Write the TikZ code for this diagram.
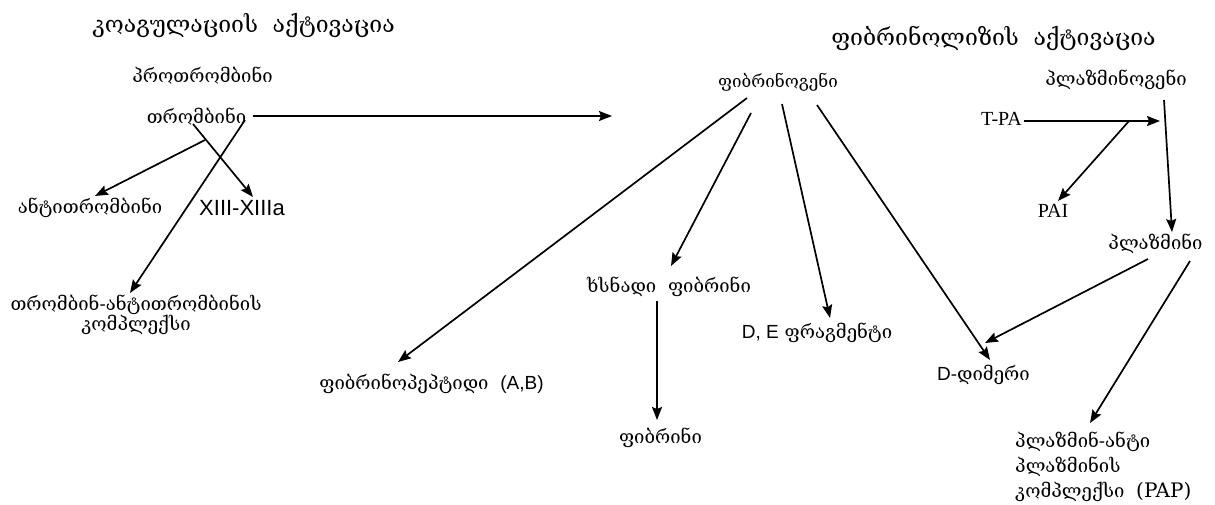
\documentclass[tikz,border=0pt]{standalone}
\usepackage{fontspec}
\setmainfont{Liberation Serif}
\newfontfamily\geo{DejaVu Serif}
\newfontfamily\lsans{Liberation Sans}
\usetikzlibrary{arrows.meta}
\newcommand{\lat}[1]{{\lsans\fontsize{19}{20}\selectfont #1}}
\newcommand{\tms}[1]{{\fontsize{20}{20}\selectfont #1}}
\tikzset{
  lbl/.style={inner sep=0pt, font=\geo\fontsize{18.5}{20}\selectfont},
  ttl/.style={inner sep=0pt, font=\geo\fontsize{23}{26}\selectfont},
  arr/.style={line width=1.7pt, -{Stealth[length=13pt,width=10pt,inset=2pt]}},
}
\begin{document}
\begin{tikzpicture}[x=1pt,y=-1pt]
\useasboundingbox (0,0) rectangle (1215,504);
% titles
\node[ttl] (t1) at (243.5,26) {კოაგულაციის\ \ აქტივაცია};
\node[ttl] (t2) at (993.5,38) {ფიბრინოლიზის\ \ აქტივაცია};
% coagulation
\node[lbl] (prot) at (202.5,76) {პროთრომბინი};
\node[lbl] (thr) at (196.5,117) {თრომბინი};
\node[lbl] (anti) at (90,208) {ანტითრომბინი};
\node[inner sep=0pt, font=\lsans\fontsize{22}{24}\selectfont] (xiii) at (242,208.5) {XIII-XIIIa};
\node[lbl, align=center] (tat) at (136,314.5) {თრომბინ-ანტითრომბინის\\კომპლექსი};
% fibrinolysis
\node[lbl, font=\geo\fontsize{17}{18}\selectfont] (fg) at (778,82) {ფიბრინოგენი};
\node[lbl] (pg) at (1116,80) {პლაზმინოგენი};
\node[inner sep=0pt, font=\fontsize{20}{20}\selectfont] (tpa) at (1001.5,118.5) {T-PA};
\node[inner sep=0pt, font=\fontsize{20}{20}\selectfont] (pai) at (1053,210.5) {PAI};
\node[lbl] (pl) at (1155.5,244) {პლაზმინი};
\node[lbl] (sf) at (669,287) {ხსნადი\ \ ფიბრინი};
\node[lbl] (fib) at (660.5,438) {ფიბრინი};
\node[lbl] (fp) at (431.5,383.5) {ფიბრინოპეპტიდი\ \ \lat{(A,B)}};
\node[lbl] (de) at (817,332.5) {\lat{D, E} ფრაგმენტი};
\node[lbl] (dd) at (983.5,375) {\lat{D}-დიმერი};
\node[lbl, align=left, anchor=west, font=\geo\fontsize{18.5}{25}\selectfont] (pap) at (1015,467) {პლაზმინ-ანტი\\პლაზმინის\\კომპლექსი\ \ \tms{(PAP)}};
% connector points
\coordinate (thrE) at (253,116);
\coordinate (thrArr) at (612,116);
\coordinate (a1) at (193,124);
\coordinate (a1e) at (253,197);
\coordinate (a2) at (245,120);
\coordinate (a2e) at (130,293);
\coordinate (a3) at (205,140);
\coordinate (a3e) at (95,196);
\coordinate (f1) at (747,98);
\coordinate (f1e) at (398,362);
\coordinate (f2) at (751,113);
\coordinate (f2e) at (671,266);
\coordinate (f3) at (782,104);
\coordinate (f3e) at (830,318);
\coordinate (f4) at (817,105);
\coordinate (f4e) at (990,360);
\coordinate (s1) at (657,301);
\coordinate (s1e) at (657,420);
\coordinate (tpaE) at (1024,121);
\coordinate (tpaArr) at (1160,121);
\coordinate (br) at (1129,121);
\coordinate (paiE) at (1058,201);
\coordinate (p0) at (1164,100);
\coordinate (p0e) at (1172,232);
\coordinate (p1) at (1148,259);
\coordinate (p1e) at (985,343);
\coordinate (p2) at (1190,261);
\coordinate (p2e) at (1090,423);
% connectors
\draw[arr] (thrE) -- (thrArr);
\draw[arr] (a1) -- (a1e);
\draw[arr] (a2) -- (a2e);
\draw[arr] (a3) -- (a3e);
\draw[arr] (f1) -- (f1e);
\draw[arr] (f2) -- (f2e);
\draw[arr] (f3) -- (f3e);
\draw[arr] (f4) -- (f4e);
\draw[arr] (s1) -- (s1e);
\draw[arr] (tpaE) -- (tpaArr);
\draw[arr] (br) -- (paiE);
\draw[arr] (p0) -- (p0e);
\draw[arr] (p1) -- (p1e);
\draw[arr] (p2) -- (p2e);
\end{tikzpicture}
\end{document}
